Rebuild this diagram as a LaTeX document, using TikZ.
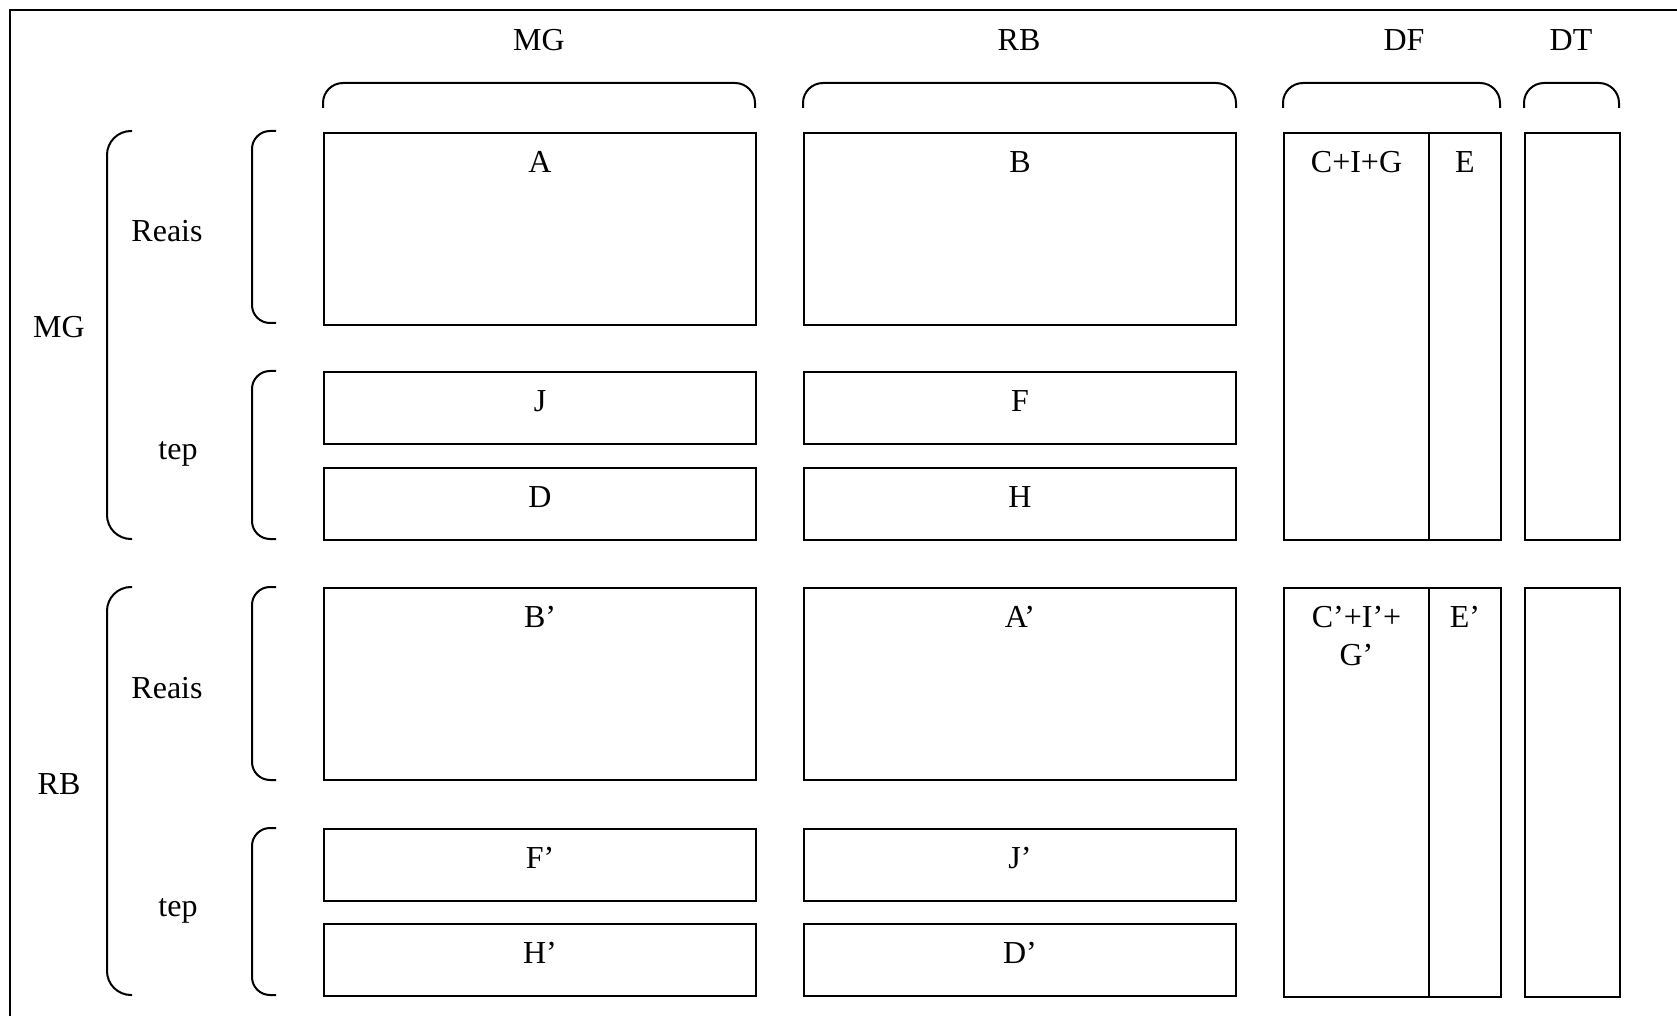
\documentclass[tikz,border=0pt]{standalone}
\usepackage{fontspec}
\setmainfont{Liberation Serif}
\usepackage{tikz}
\usetikzlibrary{positioning}

\tikzset{
    % boxes - sharp corners, drawn from the top left corner
    cell/.style={
        rectangle,
        draw=black,
        line width=1pt,
        inner sep=0pt,
        anchor=north west
    },
    bigcell/.style={
        cell,
        minimum width=216pt,
        minimum height=96pt
    },
    smallcell/.style={
        cell,
        minimum width=216pt,
        minimum height=36pt
    },
    tag/.style={
        anchor=north,
        yshift=-6.2pt,
        align=center
    },
    % braces
    outerbrace/.style={
        line width=1pt,
        rounded corners=12pt
    },
    innerbrace/.style={
        line width=1pt,
        rounded corners=9pt
    },
    topbrace/.style={
        line width=1pt,
        rounded corners=10pt
    }
}

\begin{document}
\begin{tikzpicture}[x=0.5pt, y=-0.5pt, font=\fontsize{16pt}{19pt}\selectfont]
    \useasboundingbox (0,0) rectangle (1677,1016);

    % frame
    \draw[line width=1pt] (1677,10) -- (10,10) -- (10,1016);

    % column heads
    \node (colmg) at (539,40) {MG};
    \node (colrb) at (1019,40) {RB};
    \node (coldf) at (1404,40) {DF};
    \node (coldt) at (1571,40) {DT};

    \draw[topbrace] (323,108) -- (323,83) -- (755,83) -- (755,108);
    \draw[topbrace] (803,108) -- (803,83) -- (1236,83) -- (1236,108);
    \draw[topbrace] (1283,108) -- (1283,83) -- (1500,83) -- (1500,108);
    \draw[topbrace] (1524,108) -- (1524,83) -- (1619,83) -- (1619,108);

    % MG rows
    \node (rowmg) at (59,327) {MG};
    \node (reaismg) at (167,231) {Reais};
    \node (tepmg) at (178,454) {tep};

    \draw[outerbrace] (132,131) -- (107,131) -- (107,539) -- (132,539);
    \draw[innerbrace] (276,131) -- (252,131) -- (252,323) -- (276,323);
    \draw[innerbrace] (276,371) -- (252,371) -- (252,539) -- (276,539);

    \node[bigcell, label={[tag]north:A}] (a) at (323,132) {};
    \node[bigcell, label={[tag]north:B}] (b) at (803,132) {};
    \node[smallcell, label={[tag]north:J}] (j) at (323,371) {};
    \node[smallcell, label={[tag]north:F}] (f) at (803,371) {};
    \node[smallcell, label={[tag]north:D}] (d) at (323,467) {};
    \node[smallcell, label={[tag]north:H}] (h) at (803,467) {};

    \node[cell, minimum width=72.5pt, minimum height=203.5pt, label={[tag]north:C+I+G}] (cig) at (1283,132) {};
    \node[cell, minimum width=36pt, minimum height=203.5pt, label={[tag]north:E}] (e) at (1428,132) {};
    \node[cell, minimum width=47.5pt, minimum height=203.5pt] (dt) at (1524,132) {};

    % RB rows
    \node (rowrb) at (59,784) {RB};
    \node (reaisrb) at (167,688) {Reais};
    \node (teprb) at (178,911) {tep};

    \draw[outerbrace] (132,587) -- (107,587) -- (107,995) -- (132,995);
    \draw[innerbrace] (276,587) -- (252,587) -- (252,780) -- (276,780);
    \draw[innerbrace] (276,828) -- (252,828) -- (252,995) -- (276,995);

    \node[bigcell, label={[tag]north:B’}] (bp) at (323,587) {};
    \node[bigcell, label={[tag]north:A’}] (ap) at (803,587) {};
    \node[smallcell, label={[tag]north:F’}] (fp) at (323,828) {};
    \node[smallcell, label={[tag]north:J’}] (jp) at (803,828) {};
    \node[smallcell, label={[tag]north:H’}] (hp) at (323,923) {};
    \node[smallcell, label={[tag]north:D’}] (dp) at (803,923) {};

    \node[cell, minimum width=72.5pt, minimum height=204.5pt, label={[tag]north:C’+I’+\\G’}] (cigp) at (1283,587) {};
    \node[cell, minimum width=36pt, minimum height=204.5pt, label={[tag]north:E’}] (ep) at (1428,587) {};
    \node[cell, minimum width=47.5pt, minimum height=204.5pt] (dtp) at (1524,587) {};
\end{tikzpicture}
\end{document}
